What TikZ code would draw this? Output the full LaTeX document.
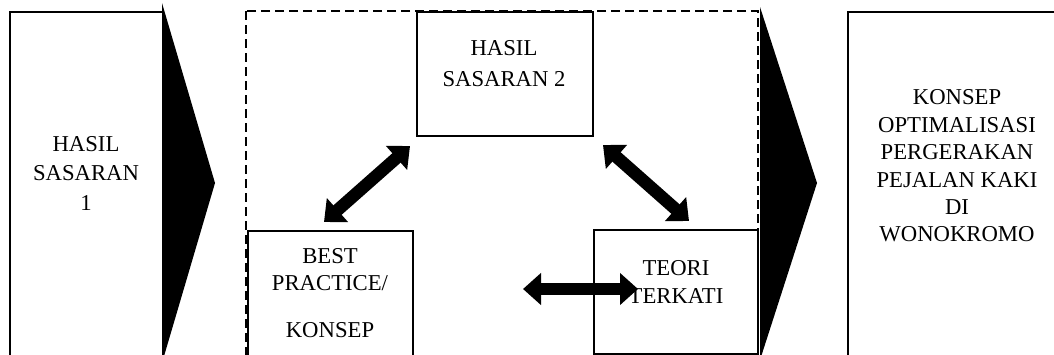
\documentclass[tikz,border=0pt]{standalone}
\usepackage{fontspec}
\setmainfont{Liberation Serif}
\usetikzlibrary{arrows.meta,positioning}
\tikzset{
  panel/.style={draw, line width=1.8pt, anchor=north west, inner sep=0pt},
  caption/.style={align=center, inner sep=0pt, font=\fontsize{22.7}{29}\selectfont},
  fatarrow/.style={line width=12.5pt, {Triangle[length=18pt,width=31pt]}-{Triangle[length=18pt,width=31pt]}},
}
\begin{document}
\begin{tikzpicture}[x=1pt, y=-1pt]
  \clip (0,0) rectangle (1054,354);
  % dashed frame round the middle step
  \draw[dash pattern=on 9pt off 5pt, line width=1.8pt] (246,11) rectangle (758,400);
  % boxes
  \node[panel, minimum width=153pt, minimum height=400pt] (sas1) at (9,11) {};
  \node[panel, minimum width=176pt, minimum height=124pt] (sas2) at (416,11) {};
  \node[panel, minimum width=165pt, minimum height=200pt] (best) at (247,230) {};
  \node[panel, minimum width=164pt, minimum height=124pt] (teori) at (593,229) {};
  \node[panel, minimum width=260pt, minimum height=400pt] (konsep) at (847,11) {};
  % big chevrons
  \fill (162,3) -- (215,183) -- (162,363) -- cycle;
  \fill (760,7) -- (817,183) -- (760,360) -- cycle;
  % texts
  \node[caption, font=\fontsize{22.7}{29.5}\selectfont] (sas1txt) at (86,173) {HASIL\\SASARAN\\1};
  \node[caption, font=\fontsize{22.7}{31}\selectfont] (sas2txt) at (504,64) {HASIL\\SASARAN 2};
  \node[caption, font=\fontsize{22.7}{27}\selectfont] (besttxt) at (330,293) {BEST\\PRACTICE/\\[20pt]KONSEP};
  \node[caption, font=\fontsize{22.7}{28}\selectfont] (teoritxt) at (676,282) {TEORI\\TERKATI};
  \node[caption, font=\fontsize{22.7}{27.4}\selectfont] (konseptxt) at (957,166)
    {KONSEP\\OPTIMALISASI\\PERGERAKAN\\PEJALAN KAKI\\DI\\WONOKROMO};
  % two-way arrows
  \coordinate (ar1a) at (324,222);
  \coordinate (ar1b) at (410,146);
  \coordinate (ar2a) at (603,145);
  \coordinate (ar2b) at (689,221);
  \coordinate (ar3a) at (523,289);
  \coordinate (ar3b) at (638,289);
  \draw[fatarrow] (ar1a) -- (ar1b);
  \draw[fatarrow] (ar2a) -- (ar2b);
  \draw[fatarrow] (ar3a) -- (ar3b);
\end{tikzpicture}
\end{document}
